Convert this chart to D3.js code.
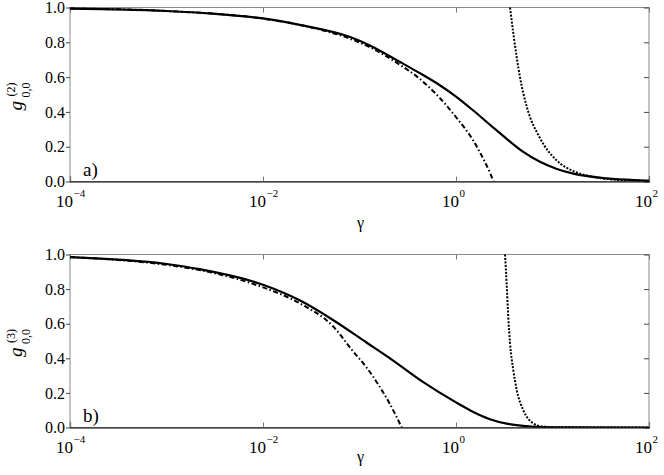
<!DOCTYPE html>
<html>
<head>
<meta charset="utf-8">
<script src="https://cdn.jsdelivr.net/npm/d3@7"></script>
<style>
  body { margin: 0; background: #fff; }
  text { font-family: "Liberation Serif", "DejaVu Serif", serif; fill: #000; }
</style>
</head>
<body>
<div id="chart-area"></div>
<script>
/*
*    two panels of g(2) and g(3) against gamma, log x axis
*/

// canvas size
const canvasWidth = 664;
const canvasHeight = 475;

// x ticks (powers of ten) and their exponent labels
const xTickValues = [1e-4, 1e-2, 1e0, 1e2];
const xTickExponents = ["\u22124", "\u22122", "0", "2"];

// y ticks
const yTickValues = [0, 0.2, 0.4, 0.6, 0.8, 1.0];

// panel a) : exact curve (solid)
const gammaExact2 = [1e-4, 3e-4, 1e-3, 3e-3, 1e-2, 0.024, 0.08, 0.128, 0.263, 0.4, 0.68, 1, 1.51, 2.25, 3.35, 4.98, 7.41, 11.1, 16.4, 36.4, 80.7, 100];
const gExact2 = [0.994, 0.989, 0.98, 0.965, 0.937, 0.90, 0.83, 0.782, 0.687, 0.63, 0.553, 0.488, 0.408, 0.326, 0.245, 0.17, 0.113, 0.072, 0.045, 0.018, 0.007, 0.005];

// panel a) : weak coupling (dash-dot)
const gammaWeak2 = [1e-4, 1e-3, 1e-2, 0.024, 0.08, 0.128, 0.263, 0.4, 0.68, 1.0, 1.51, 1.92, 2.25, 2.45];
const gWeak2 = [0.994, 0.98, 0.936, 0.90, 0.82, 0.772, 0.67, 0.60, 0.48, 0.37, 0.235, 0.13, 0.05, 0.0];

// panel a) : strong coupling (dotted)
const gammaStrong2 = [3.63, 3.93, 4.6, 5.41, 7.41, 11.1, 16.4, 24.5, 36.4, 60, 100];
const gStrong2 = [1.0, 0.85, 0.60, 0.43, 0.25, 0.12, 0.06, 0.03, 0.015, 0.006, 0.003];

// panel b) : exact curve (solid)
const gammaExact3 = [1e-4, 1e-3, 2.2e-3, 1e-2, 0.024, 0.0536, 0.119, 0.207, 0.458, 1, 1.51, 2.25, 3.35, 4.98, 7.41, 16.4, 100];
const gExact3 = [0.985, 0.945, 0.915, 0.825, 0.735, 0.62, 0.49, 0.40, 0.262, 0.145, 0.09, 0.048, 0.022, 0.009, 0.003, 0.0005, 0];

// panel b) : weak coupling (dash-dot)
const gammaWeak3 = [1e-4, 1e-3, 2.2e-3, 1e-2, 0.024, 0.0536, 0.085, 0.119, 0.16, 0.207, 0.274];
const gWeak3 = [0.985, 0.94, 0.91, 0.81, 0.718, 0.583, 0.443, 0.345, 0.24, 0.135, 0];

// panel b) : strong coupling (dotted)
const gammaStrong3 = [3.22, 3.35, 3.48, 3.63, 3.93, 4.26, 4.98, 6.32, 8.04, 12, 100];
const gStrong3 = [1.0, 0.83, 0.64, 0.487, 0.33, 0.217, 0.10, 0.024, 0.005, 0.001, 0];

// plot box edges
const plotLeft = 70;
const plotRight = 649;

// svg
const svg = d3.select("#chart-area")
	.append("svg")
		.attr("width", canvasWidth)
		.attr("height", canvasHeight)

// shared log x scale
const xScale = d3.scaleLog()
	.domain([1e-4, 1e2])
	.range([plotLeft, plotRight])

const zip = (xs, ys) => xs.map((x, i) => ({ x: x, y: ys[i] }))

const drawPanel = (p) => {
	const yScale = d3.scaleLinear()
		.domain([0, 1])
		.range([p.bottom, p.top])

	const g = svg.append("g")

	// clip
	g.append("clipPath")
		.attr("id", "clip-" + p.id)
	.append("rect")
		.attr("x", plotLeft)
		.attr("y", p.top - 1)
		.attr("width", plotRight - plotLeft)
		.attr("height", p.bottom - p.top + 1)

	// frame
	g.append("rect")
		.attr("x", plotLeft)
		.attr("y", p.top)
		.attr("width", plotRight - plotLeft)
		.attr("height", p.bottom - p.top)
		.attr("fill", "none")
		.attr("stroke", "#8a8a8a")
		.attr("stroke-width", 1)

	// left axis, ticks outward
	const yAxisLeft = g.append("g")
		.attr("transform", `translate(${plotLeft},0)`)
		.call(d3.axisLeft(yScale)
			.tickValues(yTickValues)
			.tickSize(4)
			.tickPadding(1)
			.tickFormat(d3.format(".1f")))
	yAxisLeft.select(".domain").remove()
	yAxisLeft.selectAll("line").attr("stroke", "#444")
	yAxisLeft.selectAll("text")
		.attr("font-size", "16px")
		.attr("font-family", "Liberation Serif")
		.attr("fill", "#000")

	// right axis, ticks inward
	const yAxisRight = g.append("g")
		.attr("transform", `translate(${plotRight},0)`)
		.call(d3.axisRight(yScale)
			.tickValues(yTickValues)
			.tickSize(-5)
			.tickFormat(""))
	yAxisRight.select(".domain").remove()
	yAxisRight.selectAll("line").attr("stroke", "#444")

	// top axis, ticks inward
	const xAxisTop = g.append("g")
		.attr("transform", `translate(0,${p.top})`)
		.call(d3.axisTop(xScale)
			.tickValues(xTickValues)
			.tickSize(-5)
			.tickFormat(""))
	xAxisTop.select(".domain").remove()
	xAxisTop.selectAll("line").attr("stroke", "#777")

	// bottom axis, ticks inward
	const xAxisBottom = g.append("g")
		.attr("transform", `translate(0,${p.bottom})`)
		.call(d3.axisBottom(xScale)
			.tickValues(xTickValues)
			.tickSize(-5)
			.tickFormat(""))
	xAxisBottom.select(".domain")
		.attr("stroke", "#000")
		.attr("stroke-width", 1.2)
	xAxisBottom.selectAll("line").attr("stroke", "#777")

	// x tick labels 10^n
	const xLabels = g.selectAll(".xlab")
		.data(xTickValues)
		.enter()
		.append("g")
		.attr("class", "xlab")

	xLabels.append("text")
		.attr("x", (d) => xScale(d) + 3)
		.attr("y", p.bottom + 25)
		.attr("text-anchor", "end")
		.attr("font-size", "17px")
		.text("10")

	xLabels.append("text")
		.attr("x", (d) => xScale(d) + 3.5)
		.attr("y", p.bottom + 15)
		.attr("font-size", "11px")
		.text((d, i) => xTickExponents[i])

	// x axis label
	g.append("text")
		.attr("x", 360.5)
		.attr("y", p.gammaY)
		.attr("text-anchor", "middle")
		.attr("font-size", "16px")
		.text("\u03b3")

	// y axis label, rotated
	const yLabel = g.append("g")
		.attr("transform", `translate(22,${(p.top + p.bottom) / 2 + 1}) rotate(-90)`)
	yLabel.append("text")
		.attr("x", -15)
		.attr("y", 0)
		.attr("font-size", "19px")
		.attr("font-style", "italic")
		.text("g")
	yLabel.append("text")
		.attr("x", -2)
		.attr("y", 8)
		.attr("font-size", "12px")
		.text("0,0")
	yLabel.append("text")
		.attr("x", -1)
		.attr("y", -7)
		.attr("font-size", "12px")
		.text(p.order)

	// panel letter
	g.append("text")
		.attr("x", 83)
		.attr("y", p.bottom - 6)
		.attr("font-size", "19px")
		.text(p.letter)

	// curves
	const line = d3.line()
		.x((d) => xScale(d.x))
		.y((d) => yScale(d.y))
		.curve(d3.curveMonotoneX)

	const curves = g.append("g").attr("clip-path", `url(#clip-${p.id})`)

	p.series.forEach((s) => {
		curves.append("path")
			.attr("d", line(zip(s.gamma, s.g)))
			.attr("fill", "none")
			.attr("stroke", "#000")
			.attr("stroke-width", s.width)
			.attr("stroke-dasharray", s.dash)
	})
}

// panel a)
drawPanel({
	id: "a", top: 7.5, bottom: 181.5, letter: "a)", order: "(2)", gammaY: 228,
	series: [
		{ gamma: gammaExact2, g: gExact2, width: 2.2, dash: null },
		{ gamma: gammaWeak2, g: gWeak2, width: 2, dash: "5,2.5,1.5,2.5" },
		{ gamma: gammaStrong2, g: gStrong2, width: 2, dash: "2,1.5" }
	]
})

// panel b)
drawPanel({
	id: "b", top: 254.5, bottom: 427.5, letter: "b)", order: "(3)", gammaY: 462,
	series: [
		{ gamma: gammaExact3, g: gExact3, width: 2.2, dash: null },
		{ gamma: gammaWeak3, g: gWeak3, width: 2, dash: "5,2.5,1.5,2.5" },
		{ gamma: gammaStrong3, g: gStrong3, width: 2, dash: "2,1.5" }
	]
})
</script>
</body>
</html>
